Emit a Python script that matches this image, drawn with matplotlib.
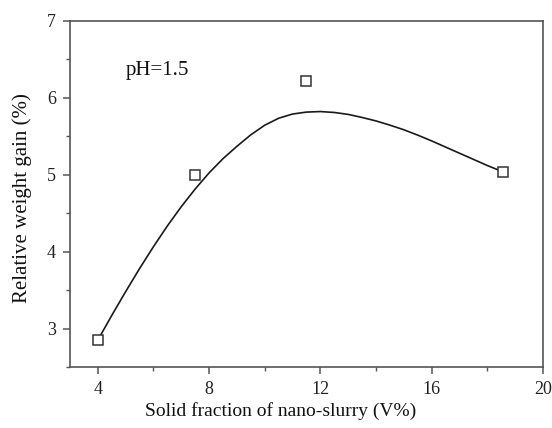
import matplotlib
matplotlib.use("Agg")
import matplotlib.pyplot as plt
from matplotlib.ticker import MultipleLocator

plt.rcParams["font.family"] = ["Liberation Serif", "DejaVu Serif"]

# measured points
solid_frac = [4.0, 7.5, 11.5, 18.55]
weight_gain = [2.85, 5.0, 6.22, 5.04]

# smooth fitted curve
curve_x = [4.0, 4.5, 5.0, 5.5, 6.0, 6.5, 7.0, 7.5, 8.0, 8.5, 9.0, 9.5, 10.0,
           10.5, 11.0, 11.5, 12.0, 12.5, 13.0, 13.5, 14.0, 14.5, 15.0, 15.5,
           16.0, 16.5, 17.0, 17.5, 18.0, 18.55]
curve_y = [2.85, 3.17, 3.48, 3.78, 4.065, 4.335, 4.585, 4.815, 5.025, 5.21,
           5.37, 5.52, 5.645, 5.735, 5.79, 5.815, 5.822, 5.81, 5.785, 5.745,
           5.70, 5.645, 5.585, 5.515, 5.44, 5.36, 5.28, 5.20, 5.12, 5.04]

SPINE = "#555555"

fig = plt.figure(figsize=(5.52, 4.28), dpi=100)
ax = fig.add_axes([0.1268, 0.1425, 0.8569, 0.8085])

ax.plot(curve_x, curve_y, color="#1a1a1a", linewidth=1.2, zorder=2,
        solid_joinstyle="round")
ax.plot(solid_frac, weight_gain, linestyle="none", marker="s", markersize=7,
        markerfacecolor="white", markeredgecolor="#333333", markeredgewidth=1.1, zorder=3)

ax.text(5.0, 6.36, "pH=1.5", fontsize=15, va="center", ha="left", color="#111111")

ax.set_xlim(3, 20)
ax.set_ylim(2.5, 7)
ax.xaxis.set_minor_locator(MultipleLocator(2))
ax.yaxis.set_minor_locator(MultipleLocator(0.5))
ax.set_xticks([4, 8, 12, 16, 20])
ax.set_yticks([3, 4, 5, 6, 7])

for s in ax.spines.values():
    s.set_color(SPINE)
    s.set_linewidth(1.2)

ax.tick_params(which="both", direction="out", color=SPINE, top=False, right=False)
ax.tick_params(which="major", length=5, width=1.1, labelsize=13, pad=5, labelcolor="#222222")
ax.tick_params(which="minor", length=3, width=1.0)

ax.set_xlabel("Solid fraction of nano-slurry (V%)", fontsize=14, color="#111111")
ax.set_ylabel("Relative weight gain (%)", fontsize=15, color="#111111")
ax.xaxis.set_label_coords(0.445, -0.10)
ax.yaxis.set_label_coords(-0.08, 0.487)

fig.savefig("out.png", dpi=100)
